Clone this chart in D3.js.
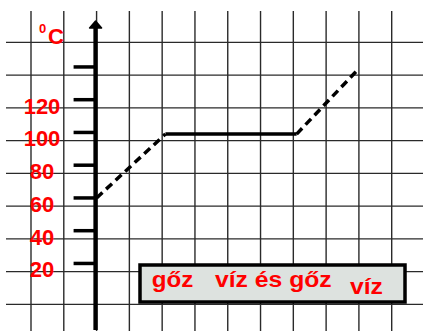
<!DOCTYPE html>
<html>
<head>
<meta charset="utf-8">
<script src="https://cdn.jsdelivr.net/npm/d3@7"></script>
<style>
  html, body { margin: 0; padding: 0; background: #fff; }
  svg { display: block; }
  text { font-family: "Liberation Sans", Arial, sans-serif; font-weight: bold; }
</style>
</head>
<body>
<svg id="chart" width="423" height="331"></svg>
<script>
// ---- data ----
const times = [0, 2.1, 6.1, 8.0];            // time in grid cells from the axis
const temps = [60, 99, 99, 139];             // temperature, °C
const segStyles = ["dashed", "solid", "dashed"]; // heating, boiling, heating
const tickValues = [20, 40, 60, 80, 100, 120, 140];
const tickLabels = ["20", "40", "60", "80", "100", "120", ""];
const phaseLabels = ["gőz", "víz és gőz", "víz"];
const unitLabel = "C";
const unitSup = "0";

// ---- layout ----
const W = 423, H = 331;
const svg = d3.select("#chart");

const x = d3.scaleLinear().domain([-2, 9]).range([31, 391.7]);
const y = d3.scaleLinear().domain([0, 140]).range([296.2, 296.2 - 140 * 1.6375]);

// grid (background)
const gridX = d3.range(-2, 10, 1);
const gridY = d3.range(-5, 160, 20);
const grid = svg.append("g").attr("stroke", "#2a2a2a").attr("stroke-width", 1.4);
grid.selectAll("line.v").data(gridX).join("line").attr("class", "v")
  .attr("x1", d => x(d)).attr("x2", d => x(d)).attr("y1", 11).attr("y2", H);
grid.selectAll("line.h").data(gridY).join("line").attr("class", "h")
  .attr("x1", 6).attr("x2", W).attr("y1", d => y(d)).attr("y2", d => y(d));

// vertical axis with arrow
const ax = x(0) - 1;
svg.append("line").attr("x1", ax).attr("x2", ax).attr("y1", 27).attr("y2", 330)
  .attr("stroke", "#000").attr("stroke-width", 4.4);
svg.append("path")
  .attr("d", `M${ax - 6},28 L${ax},21 L${ax + 6},28 Z`)
  .attr("fill", "#000").attr("stroke", "#000").attr("stroke-width", 1.5).attr("stroke-linejoin", "round");

// tick marks
svg.append("g").selectAll("line").data(tickValues).join("line")
  .attr("x1", ax - 22).attr("x2", ax - 1)
  .attr("y1", d => y(d)).attr("y2", d => y(d))
  .attr("stroke", "#000").attr("stroke-width", 3.5);

// tick labels
svg.append("g").selectAll("text").data(tickValues).join("text")
  .attr("x", 42).attr("y", d => y(d) + 14)
  .attr("text-anchor", "middle")
  .attr("font-size", 22).attr("fill", "#ff0000")
  .text((d, i) => tickLabels[i]);

// unit label
svg.append("text").attr("x", 39).attr("y", 33).attr("font-size", 13).attr("fill", "#ff0000").text(unitSup);
svg.append("text").attr("x", 48).attr("y", 44).attr("font-size", 22).attr("fill", "#ff0000").text(unitLabel);

// data line segments
const pts = times.map((t, i) => [x(t), y(temps[i])]);
const line = d3.line();
segStyles.forEach((s, i) => {
  svg.append("path")
    .attr("d", line([pts[i], pts[i + 1]]))
    .attr("fill", "none").attr("stroke", "#000").attr("stroke-width", 3.5)
    .attr("stroke-dasharray", s === "dashed" ? "8,5" : null);
});

// phase legend box
svg.append("rect").attr("x", 140).attr("y", 265).attr("width", 265).attr("height", 37)
  .attr("fill", "#dde2df").attr("stroke", "#000").attr("stroke-width", 3.5);
const phaseX = [151.7, 215, 350];
const phaseY = [286.7, 286.7, 294.3];
const phaseW = [41.6, 116.7, 33];
svg.append("g").selectAll("text").data(phaseLabels).join("text")
  .attr("x", (d, i) => phaseX[i]).attr("y", (d, i) => phaseY[i])
  .attr("font-size", 22).attr("fill", "#ff0000")
  .attr("textLength", (d, i) => phaseW[i]).attr("lengthAdjust", "spacingAndGlyphs")
  .text(d => d);
</script>
</body>
</html>
